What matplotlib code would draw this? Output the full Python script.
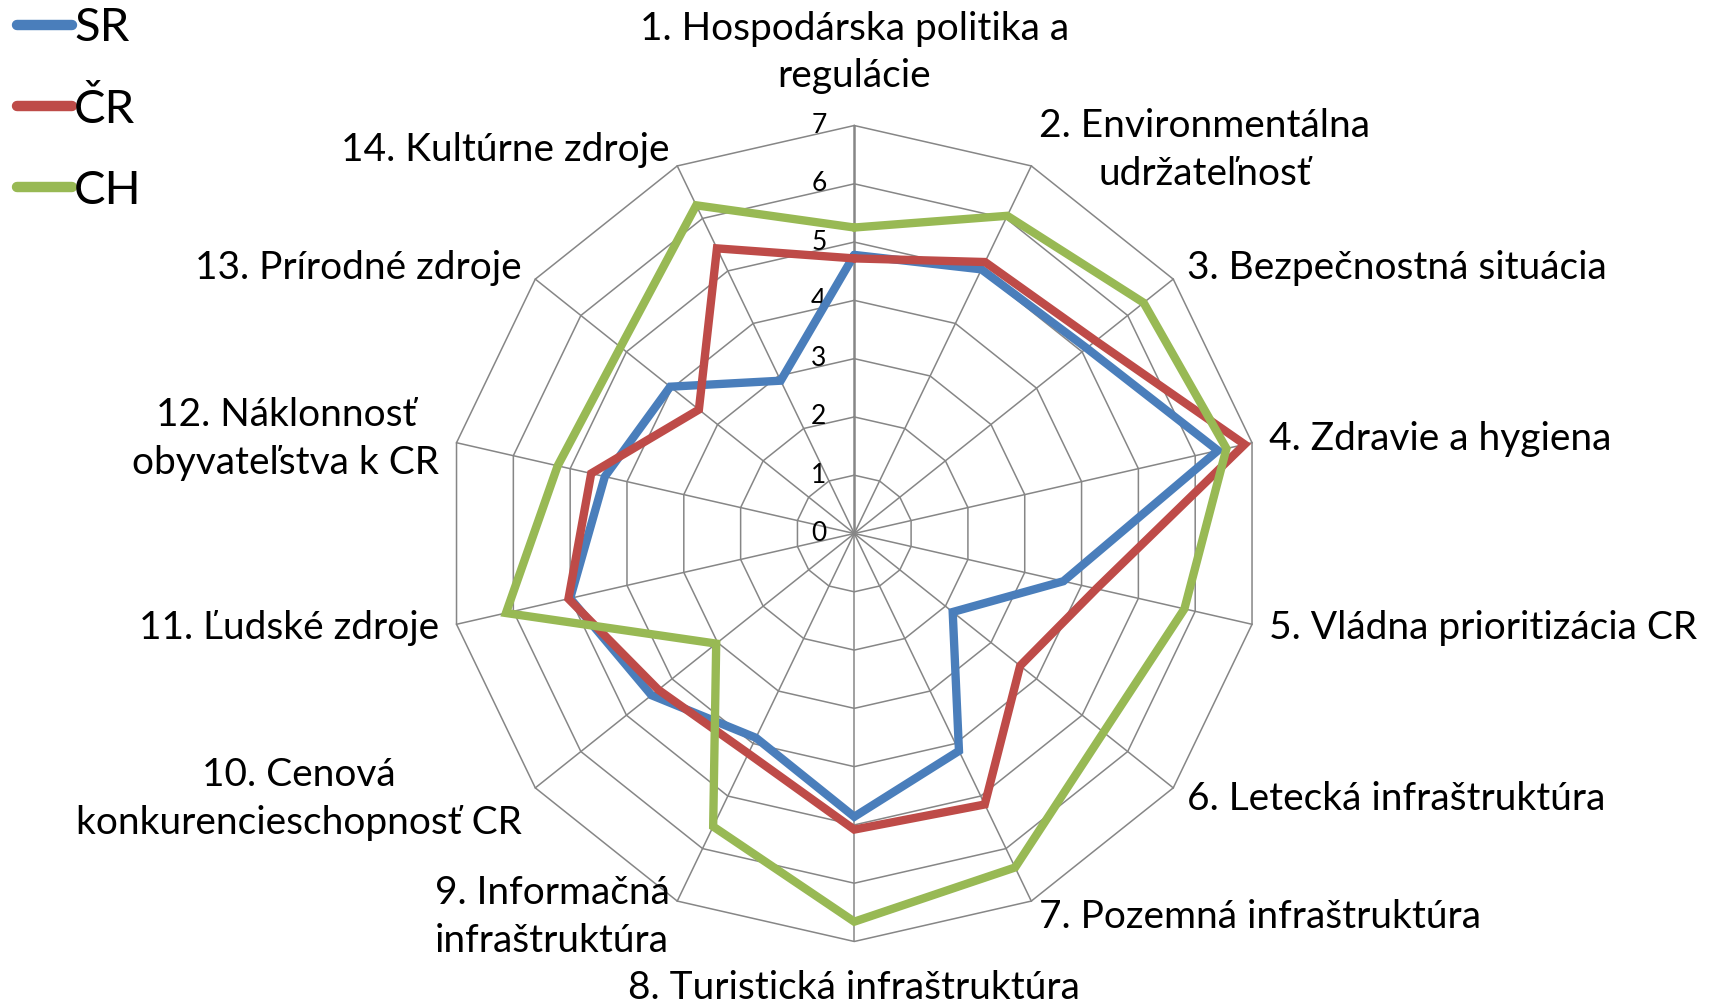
import numpy as np
import matplotlib.pyplot as plt

plt.rcParams['font.family'] = ['Lato', 'DejaVu Sans']

categories = [
    "1. Hospodárska politika a\nregulácie",
    "2. Environmentálna\nudržateľnosť",
    "3. Bezpečnostná situácia",
    "4. Zdravie a hygiena",
    "5. Vládna prioritizácia CR",
    "6. Letecká infraštruktúra",
    "7. Pozemná infraštruktúra",
    "8. Turistická infraštruktúra",
    "9. Informačná\ninfraštruktúra",
    "10. Cenová\nkonkurencieschopnosť CR",
    "11. Ľudské zdroje",
    "12. Náklonnosť\nobyvateľstva k CR",
    "13. Prírodné zdroje",
    "14. Kultúrne zdroje",
]

sr = [4.78, 5.03, 5.10, 6.40, 3.68, 2.16, 4.14, 4.86, 3.89, 4.45, 5.00, 4.39, 4.04, 2.91]
cr = [4.72, 5.17, 5.30, 6.87, 4.26, 3.64, 5.16, 5.08, 4.19, 4.30, 5.03, 4.63, 3.41, 5.43]
ch = [5.25, 6.05, 6.35, 6.55, 5.81, 5.47, 6.36, 6.66, 5.58, 3.03, 6.13, 5.22, 5.13, 6.25]

series_names = ["SR", "ČR", "CH"]
colors = ["#4A7EBB", "#BE4B48", "#98B954"]
levels = [0, 1, 2, 3, 4, 5, 6, 7]

n = len(categories)
theta = np.arange(n) * 2 * np.pi / n
theta_closed = np.append(theta, theta[0])

fig = plt.figure(figsize=(17.13, 10.05), dpi=100)
ax = fig.add_axes([0.2605, 0.0632, 0.4764, 0.8119], projection='polar')
ax.set_theta_zero_location('N')
ax.set_theta_direction(-1)
ax.set_ylim(0, 7)
ax.grid(False)
ax.spines['polar'].set_visible(False)
ax.set_xticks([])
ax.set_yticks([])
ax.patch.set_visible(False)

grid_color = '#868686'
# polygon web
for lv in levels[1:]:
    ax.plot(theta_closed, [lv] * (n + 1), color=grid_color, lw=1.1, zorder=1, clip_on=False)
for i, t in enumerate(theta):
    ax.plot([t, t], [0, levels[-1]], color=grid_color, lw=1.8 if i == 0 else 1.1,
            zorder=1, clip_on=False)

# radial value labels
for lv in levels:
    ax.annotate(str(lv), xy=(0, lv), xytext=(-20, 0), textcoords='offset points',
                ha='right', va='center', fontsize=19)

# data
for name, vals, c in zip(series_names, [sr, cr, ch], colors):
    ax.plot(theta_closed, vals + [vals[0]], color=c, lw=6, label=name,
            solid_joinstyle='miter', solid_capstyle='round', zorder=3, clip_on=False)

# category labels
for t, lab in zip(theta, categories):
    s = np.sin(t)
    if abs(s) < 0.01:
        ha = 'center'
        r = 8.25 if np.cos(t) > 0 else 7.8
    else:
        ha = 'left' if s > 0 else 'right'
        r = 7.3
    ax.text(t, r, lab, ha=ha, va='center', multialignment='center', fontsize=28,
            linespacing=1.4)

leg = ax.legend(loc='upper left', bbox_to_anchor=(0.006, 1.0), bbox_transform=fig.transFigure,
                frameon=False, fontsize=34, handlelength=1.15, handletextpad=0.05,
                labelspacing=0.82, borderaxespad=0, borderpad=0.15)
for h in leg.get_lines():
    h.set_linewidth(7.5)

fig.savefig('out.png', dpi=100, facecolor='white')
